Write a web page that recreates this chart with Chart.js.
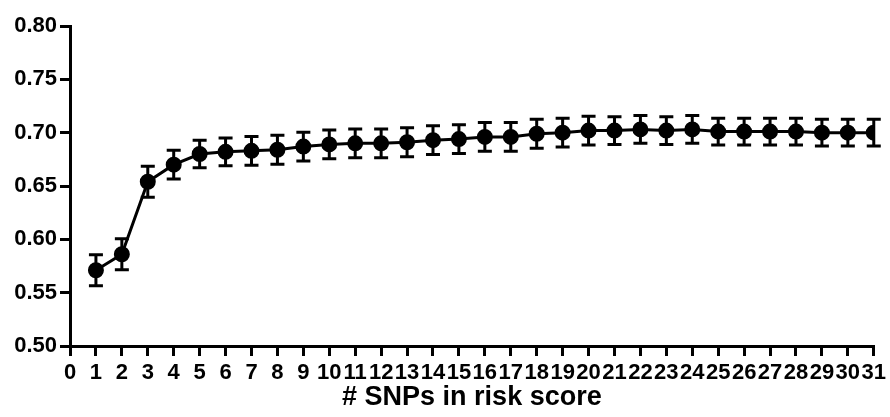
<!DOCTYPE html>
<html>
<head>
<meta charset="utf-8">
<script src="https://cdn.jsdelivr.net/npm/chart.js@4/dist/chart.umd.min.js"></script>
<style>
    html, body { margin: 0; padding: 0; background: #fff; }
    #wrap { width: 890px; height: 417px; }
</style>
</head>
<body>
<div id="wrap"><canvas id="aucChart"></canvas></div>
<script>
// numero de SNPs no escore de risco
const snps = [1, 2, 3, 4, 5, 6, 7, 8, 9, 10, 11, 12, 13, 14, 15, 16, 17, 18, 19, 20, 21, 22, 23, 24, 25, 26, 27, 28, 29, 30, 31];
// AUC medio
const auc = [0.571, 0.586, 0.654, 0.670, 0.680, 0.682, 0.683, 0.684, 0.687, 0.689, 0.690, 0.690, 0.691, 0.693, 0.694, 0.696, 0.696, 0.699, 0.700, 0.702, 0.702, 0.703, 0.702, 0.703, 0.701, 0.701, 0.701, 0.701, 0.700, 0.700, 0.700];
// meia largura da barra de erro
const erro = [0.0145, 0.0145, 0.0145, 0.0135, 0.013, 0.013, 0.0135, 0.0135, 0.0135, 0.0135, 0.0135, 0.0135, 0.0135, 0.0135, 0.0135, 0.0135, 0.0135, 0.0135, 0.0135, 0.0135, 0.013, 0.013, 0.013, 0.013, 0.0125, 0.0125, 0.0125, 0.0125, 0.0125, 0.0125, 0.0125];
const yTicks = [0.50, 0.55, 0.60, 0.65, 0.70, 0.75, 0.80];

const fonteTicks = { family: "'Liberation Sans', Arial, sans-serif", size: 22, weight: "bold" };

// barras de erro desenhadas pelas escalas do grafico
const barrasErro = {
    id: "barrasErro",
    beforeDatasetsDraw(chart) {
        const ctx = chart.ctx;
        const x = chart.scales.x;
        const y = chart.scales.y;
        ctx.save();
        ctx.strokeStyle = "#000";
        ctx.lineWidth = 3;
        for (let i = 0; i < snps.length; i++) {
            const px = x.getPixelForValue(snps[i]);
            const top = y.getPixelForValue(auc[i] + erro[i]);
            const bot = y.getPixelForValue(auc[i] - erro[i]);
            ctx.beginPath();
            ctx.moveTo(px, top); ctx.lineTo(px, bot);
            ctx.moveTo(px - 7, top); ctx.lineTo(px + 7, top);
            ctx.moveTo(px - 7, bot); ctx.lineTo(px + 7, bot);
            ctx.stroke();
        }
        ctx.restore();
    }
};

new Chart(document.getElementById("aucChart"), {
    type: "line",
    data: {
        datasets: [{
            data: snps.map((s, i) => ({ x: s, y: auc[i] })),
            borderColor: "#000",
            borderWidth: 3,
            backgroundColor: "#000",
            pointBackgroundColor: "#000",
            pointBorderColor: "#000",
            pointRadius: 6.5,
            tension: 0
        }]
    },
    options: {
        responsive: true,
        maintainAspectRatio: false,
        animation: false,
        layout: { padding: { top: 26, right: 14, left: 0, bottom: 0 } },
        plugins: {
            legend: { display: false },
            tooltip: { enabled: false }
        },
        scales: {
            x: {
                type: "linear",
                min: 0,
                max: 31,
                afterFit: s => { s.height = 71; },
                grid: { display: true, drawOnChartArea: false, drawTicks: true, tickLength: 10, color: "#000", lineWidth: 3 },
                border: { display: true, color: "#000", width: 3 },
                ticks: { stepSize: 1, autoSkip: false, maxRotation: 0, color: "#000", font: fonteTicks, padding: 4 },
                title: {
                    display: true,
                    text: "# SNPs in risk score",
                    color: "#000",
                    font: { family: "'Liberation Sans', Arial, sans-serif", size: 27, weight: "bold" },
                    padding: { top: 0, bottom: 3 }
                }
            },
            y: {
                min: 0.5,
                max: 0.8,
                afterFit: s => { s.width = 70; },
                afterBuildTicks: s => { s.ticks = yTicks.map(v => ({ value: v })); },
                grid: { display: true, drawOnChartArea: false, drawTicks: true, tickLength: 10, color: "#000", lineWidth: 3 },
                border: { display: true, color: "#000", width: 3 },
                ticks: { color: "#000", font: fonteTicks, padding: 3, callback: v => v.toFixed(2) }
            }
        }
    },
    plugins: [barrasErro]
});
</script>
</body>
</html>
